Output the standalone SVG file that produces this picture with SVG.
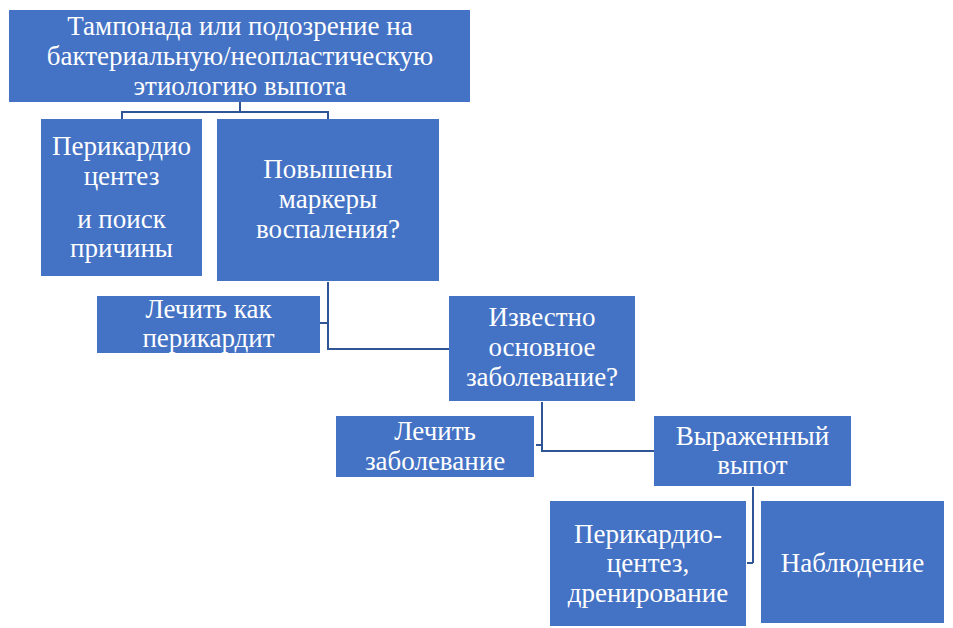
<svg xmlns="http://www.w3.org/2000/svg" width="953" height="628" viewBox="0 0 953 628">
<style>
.box{fill:#4472C4;}
.c{fill:none;stroke:#2F5597;stroke-width:2;}
</style>
<rect width="953" height="628" fill="#FFFFFF"/>
<g id="connectors">
<path class="c" d="M240,102 V112 M122,119 V112 H328 V119"/>
<path class="c" d="M328,282 V349 H449 M320,323 H328"/>
<path class="c" d="M542,402 V451 H654 M536,445 H542"/>
<path class="c" d="M753,487 V563 M747,563 H753"/>
</g>
<g id="n1"><rect class="box" x="9" y="10" width="461" height="92"/>
<text font-family="Liberation Serif" font-size="27" fill="#FFFFFF" text-anchor="middle"><tspan x="240" y="35">Тампонада или подозрение на</tspan><tspan x="240" y="65">бактериальную/неопластическую</tspan><tspan x="240" y="95">этиологию выпота</tspan></text></g>
<g id="n2"><rect class="box" x="41" y="119" width="161" height="157"/>
<text font-family="Liberation Serif" font-size="27" fill="#FFFFFF" text-anchor="middle"><tspan x="121.5" y="155">Перикардио</tspan><tspan x="121.5" y="185">центез</tspan><tspan x="121.5" y="228">и поиск</tspan><tspan x="121.5" y="257">причины</tspan></text></g>
<g id="n3"><rect class="box" x="217" y="119" width="222" height="162"/>
<text font-family="Liberation Serif" font-size="27" fill="#FFFFFF" text-anchor="middle"><tspan x="328" y="178">Повышены</tspan><tspan x="328" y="208">маркеры</tspan><tspan x="328" y="238">воспаления?</tspan></text></g>
<g id="n4"><rect class="box" x="97" y="296" width="223" height="57"/>
<text font-family="Liberation Serif" font-size="27" fill="#FFFFFF" text-anchor="middle"><tspan x="208.5" y="318">Лечить как</tspan><tspan x="208.5" y="347">перикардит</tspan></text></g>
<g id="n5"><rect class="box" x="449" y="296" width="186" height="105"/>
<text font-family="Liberation Serif" font-size="27" fill="#FFFFFF" text-anchor="middle"><tspan x="542" y="326">Известно</tspan><tspan x="542" y="356">основное</tspan><tspan x="542" y="386">заболевание?</tspan></text></g>
<g id="n6"><rect class="box" x="336" y="416" width="198" height="61"/>
<text font-family="Liberation Serif" font-size="27" fill="#FFFFFF" text-anchor="middle"><tspan x="435" y="440">Лечить</tspan><tspan x="435" y="470">заболевание</tspan></text></g>
<g id="n7"><rect class="box" x="654" y="416" width="197" height="70"/>
<text font-family="Liberation Serif" font-size="27" fill="#FFFFFF" text-anchor="middle"><tspan x="752.5" y="445">Выраженный</tspan><tspan x="752.5" y="474">выпот</tspan></text></g>
<g id="n8"><rect class="box" x="550" y="501" width="196" height="125"/>
<text font-family="Liberation Serif" font-size="27" fill="#FFFFFF" text-anchor="middle"><tspan x="648" y="543">Перикардио-</tspan><tspan x="648" y="572">центез,</tspan><tspan x="648" y="602">дренирование</tspan></text></g>
<g id="n9"><rect class="box" x="761" y="501" width="183" height="122"/>
<text font-family="Liberation Serif" font-size="27" fill="#FFFFFF" text-anchor="middle"><tspan x="852.5" y="572">Наблюдение</tspan></text></g>
</svg>
